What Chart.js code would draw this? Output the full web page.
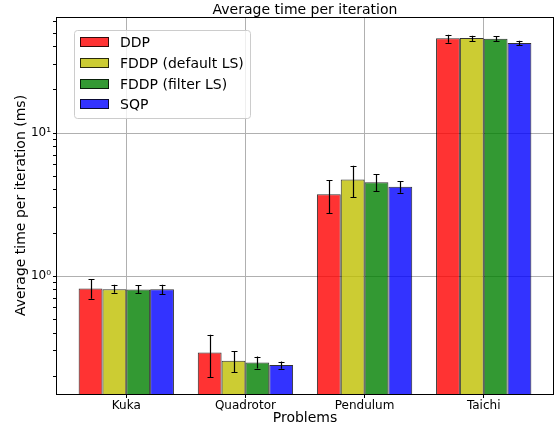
<!DOCTYPE html>
<html>
<head>
<meta charset="utf-8">
<script src="https://cdn.jsdelivr.net/npm/chart.js@4.4.1/dist/chart.umd.min.js"></script>
<style>
  html, body { margin: 0; padding: 0; background: #fff; }
</style>
</head>
<body>
<canvas id="timeChart" width="555" height="425"></canvas>
<script>
const problems = ['Kuka', 'Quadrotor', 'Pendulum', 'Taichi'];
const solvers = ['DDP', 'FDDP (default LS)', 'FDDP (filter LS)', 'SQP'];

// mean time per iteration (ms)
const ddpMean = [0.82, 0.292, 3.73, 45.9];
const fddpDefaultMean = [0.81, 0.256, 4.74, 46.1];
const fddpFilterMean = [0.807, 0.249, 4.52, 45.6];
const sqpMean = [0.81, 0.239, 4.21, 42.6];

// error bar ends
const ddpLow = [0.694, 0.196, 2.74, 42.7];
const ddpHigh = [0.948, 0.389, 4.69, 48.6];
const fddpDefaultLow = [0.764, 0.214, 3.55, 44.0];
const fddpDefaultHigh = [0.87, 0.30, 5.9, 47.9];
const fddpFilterLow = [0.76, 0.226, 3.93, 44.0];
const fddpFilterHigh = [0.86, 0.274, 5.14, 47.6];
const sqpLow = [0.75, 0.225, 3.83, 41.2];
const sqpHigh = [0.87, 0.253, 4.61, 44.2];

// y axis ticks
const yMajorTicks = [1, 10];
const yMinorTicks = [0.2, 0.3, 0.4, 0.5, 0.6, 0.7, 0.8, 0.9, 2, 3, 4, 5, 6, 7, 8, 9, 20, 30, 40, 50, 60];
const yTickLabels = { 1: '10\u2070', 10: '10\u00b9' };

const means = [ddpMean, fddpDefaultMean, fddpFilterMean, sqpMean];
const lows = [ddpLow, fddpDefaultLow, fddpFilterLow, sqpLow];
const highs = [ddpHigh, fddpDefaultHigh, fddpFilterHigh, sqpHigh];
const colors = ['rgba(255,0,0,0.8)', 'rgba(191,191,0,0.8)', 'rgba(0,128,0,0.8)', 'rgba(0,0,255,0.8)'];

Chart.defaults.font.family = '"DejaVu Sans", sans-serif';
Chart.defaults.color = '#000';

// error bars on top of each bar
const errorBars = {
  id: 'errorBars',
  afterDatasetsDraw(chart) {
    const { ctx } = chart;
    const y = chart.scales.y;
    ctx.save();
    ctx.strokeStyle = '#000';
    ctx.lineWidth = 1.2;
    chart.data.datasets.forEach((ds, i) => {
      chart.getDatasetMeta(i).data.forEach((bar, j) => {
        const lo = y.getPixelForValue(ds.errLow[j]);
        const hi = y.getPixelForValue(ds.errHigh[j]);
        const x = Math.round(bar.x) + 0.5;
        ctx.beginPath();
        ctx.moveTo(x, lo); ctx.lineTo(x, hi);
        ctx.moveTo(x - 3, Math.round(lo) + 0.5); ctx.lineTo(x + 3, Math.round(lo) + 0.5);
        ctx.moveTo(x - 3, Math.round(hi) + 0.5); ctx.lineTo(x + 3, Math.round(hi) + 0.5);
        ctx.stroke();
      });
    });
    ctx.restore();
  }
};

// box round the plot area
const axesFrame = {
  id: 'axesFrame',
  afterDraw(chart) {
    const { ctx, chartArea: a } = chart;
    ctx.save();
    ctx.strokeStyle = '#000';
    ctx.lineWidth = 1;
    ctx.strokeRect(Math.round(a.left) + 0.5, Math.round(a.top) + 0.5,
      Math.round(a.right - a.left) - 1, Math.round(a.bottom - a.top));
    ctx.restore();
  }
};

// legend in the upper left corner of the plot
const legendBox = {
  id: 'legendBox',
  afterDraw(chart) {
    const { ctx, chartArea } = chart;
    ctx.save();
    ctx.font = '14px "DejaVu Sans"';
    const textW = Math.max(...chart.data.datasets.map(d => ctx.measureText(d.label).width));
    const x0 = Math.round(chartArea.left + 18);
    const y0 = Math.round(chartArea.top + 13);
    const w = Math.round(6 + 29 + 11 + textW + 6);
    const h = 88;
    ctx.beginPath();
    ctx.roundRect(x0 + 0.5, y0 + 0.5, w, h, 3);
    ctx.fillStyle = 'rgba(255,255,255,0.8)';
    ctx.fill();
    ctx.strokeStyle = '#cccccc';
    ctx.lineWidth = 1;
    ctx.stroke();
    chart.data.datasets.forEach((ds, i) => {
      const cy = Math.round(y0 + 12.3 + i * 20.7);
      ctx.fillStyle = ds.backgroundColor;
      ctx.fillRect(x0 + 6, cy - 5, 29, 10);
      ctx.strokeStyle = ds.borderColor;
      ctx.strokeRect(x0 + 6.5, cy - 4.5, 28, 9);
      ctx.fillStyle = '#000';
      ctx.textBaseline = 'middle';
      ctx.textAlign = 'left';
      ctx.fillText(ds.label, x0 + 46, cy + 1);
    });
    ctx.restore();
  }
};

const ctx = document.getElementById('timeChart').getContext('2d');
const chart = new Chart(ctx, {
  type: 'bar',
  data: {
    datasets: solvers.map((name, i) => ({
      label: name,
      data: means[i].map((v, j) => ({ x: j, y: v })),
      errLow: lows[i],
      errHigh: highs[i],
      backgroundColor: colors[i],
      borderColor: 'rgba(0,0,0,0.8)',
      borderWidth: 1,
      categoryPercentage: 0.8,
      barPercentage: 1.0
    }))
  },
  options: {
    responsive: false,
    animation: false,
    layout: { padding: { left: 0, right: 1, top: 0, bottom: 0 } },
    plugins: {
      legend: { display: false },
      tooltip: { enabled: false },
      title: {
        display: true,
        text: 'Average time per iteration',
        fullSize: false,
        color: '#000',
        font: { size: 14, weight: 'normal', lineHeight: 1 },
        padding: { top: 3, bottom: 0 }
      }
    },
    scales: {
      x: {
        type: 'linear',
        min: -0.59,
        max: 3.59,
        offset: false,
        afterBuildTicks: scale => { scale.ticks = problems.map((p, i) => ({ value: i })); },
        afterFit: scale => { scale.height = 31; },
        ticks: { callback: v => problems[v], font: { size: 12 }, padding: 1, maxRotation: 0, autoSkip: false },
        grid: { offset: false, color: '#b0b0b0', tickColor: '#000', tickLength: 4, lineWidth: 1 },
        border: { display: false },
        title: { display: true, text: 'Problems', font: { size: 14, lineHeight: 1 }, padding: 0 }
      },
      y: {
        type: 'logarithmic',
        min: 0.15,
        max: 64.7,
        afterBuildTicks: scale => {
          scale.ticks = yMinorTicks.concat(yMajorTicks).sort((a, b) => a - b).map(v => ({ value: v }));
        },
        afterFit: scale => { scale.width = 56; },
        ticks: { callback: v => yTickLabels[v] || '', font: { size: 12 }, padding: 2, autoSkip: false },
        grid: {
          color: c => yMajorTicks.includes(c.tick && c.tick.value) ? '#b0b0b0' : 'rgba(0,0,0,0)',
          tickColor: '#000',
          tickLength: 3,
          lineWidth: 1
        },
        border: { display: false },
        title: {
          display: true,
          text: 'Average time per iteration (ms)',
          font: { size: 14, lineHeight: 1 },
          padding: { top: 14, bottom: 0 }
        }
      }
    }
  },
  plugins: [errorBars, axesFrame, legendBox]
});
</script>
</body>
</html>
